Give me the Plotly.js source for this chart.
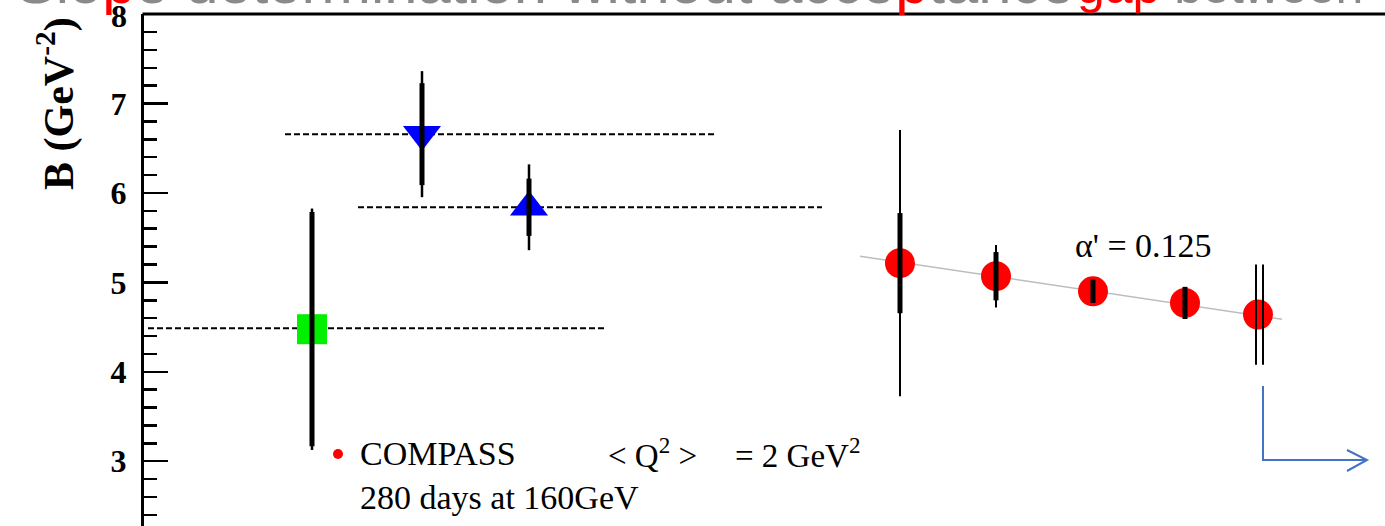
<!DOCTYPE html>
<html><head><meta charset="utf-8">
<script src="https://cdn.plot.ly/plotly-3.0.1.min.js"></script>
<style>html,body{margin:0;padding:0;background:#fff;overflow:hidden}#chart{width:1385px;height:526px}</style>
</head><body><div id="chart"></div>
<script>
// ---- data (x in arbitrary units, y = B in GeV^-2) ----
const greenX = [1.68], greenY = [4.476], greenErrStat = [1.31], greenErrTot = [1.35];
const downX = [2.78], downY = [6.658], downErrStat = [0.57], downErrTot = [0.705];
const upX = [3.85], upY = [5.84], upErrStat = [0.32], upErrTot = [0.48];
const compassX = [7.56, 8.52, 9.49, 10.41, 11.14];
const compassY = [5.215, 5.069, 4.90, 4.77, 4.64];
const compassErrStat = [0.56, 0.27, 0.13, 0.18, 0.0];
const compassErrTot = [1.49, 0.35, 0.0, 0.0, 0.0];
const edgeX = [11.12, 11.19], edgeY = [4.64, 4.64], edgeErr = [0.56, 0.56];
const refLevels = [4.488, 6.658, 5.84];
const refStart = [0.04, 1.41, 2.14];
const refEnd = [4.61, 5.71, 6.78];
const fitX = [7.16, 11.38], fitY = [5.293, 4.588];
const yTicks = [3, 4, 5, 6, 7, 8];
const yTopTick = 8;

// ---- helpers for page-pixel placement of decorations ----
const L = 144, T = 14, W = 1241, H = 512;
const px = x => (x - L) / W;
const py = y => 1 - (y - T) / H;

const traces = [];
refLevels.forEach((lv, i) => {
  traces.push({x: [refStart[i], refEnd[i]], y: [lv, lv], mode: 'lines',
    line: {color: '#000', width: 2, dash: '6px,3px'}, hoverinfo: 'skip'});
});
traces.push({x: fitX, y: fitY, mode: 'lines', line: {color: '#bdbdbd', width: 1.5}, hoverinfo: 'skip'});
traces.push({x: greenX, y: greenY, mode: 'markers', marker: {symbol: 'square', size: 30, color: '#00f000'}});
traces.push({x: downX, y: downY, mode: 'markers', marker: {symbol: 'triangle-down', size: 33, color: '#0000ff'}});
traces.push({x: upX, y: upY, mode: 'markers', marker: {symbol: 'triangle-up', size: 33, color: '#0000ff'}});
traces.push({x: compassX, y: compassY, mode: 'markers', marker: {symbol: 'circle', size: 30, color: '#ff0000'}});
function eb(x, y, err, thick) {
  return {x: x, y: y, mode: 'markers', marker: {size: 1, color: 'rgba(0,0,0,0)'}, hoverinfo: 'skip',
    error_y: {type: 'data', array: err, symmetric: true, color: '#000', thickness: thick, width: 0}};
}
traces.push(eb(greenX, greenY, greenErrTot, 2.5));
traces.push(eb(greenX, greenY, greenErrStat, 5));
traces.push(eb(downX, downY, downErrTot, 2.5));
traces.push(eb(downX, downY, downErrStat, 5));
traces.push(eb(upX, upY, upErrTot, 2.5));
traces.push(eb(upX, upY, upErrStat, 5));
traces.push(eb(compassX, compassY, compassErrTot, 2));
traces.push(eb(compassX, compassY, compassErrStat, 5));
traces.push(eb(edgeX, edgeY, edgeErr, 2));

const serif = 'Liberation Serif, Times New Roman, serif';
const R = s => '<span style="color:#ff0000">' + s + '</span>';
const sans = 'Liberation Sans, Arial, sans-serif';
const layout = {
  width: 1385, height: 526,
  margin: {l: L, r: 0, t: T, b: 0, pad: 0},
  paper_bgcolor: '#fff', plot_bgcolor: '#fff',
  showlegend: false,
  xaxis: {range: [0, 12.41], visible: false, fixedrange: true},
  yaxis: {range: [8.002 - H / 89.4, 8.002], showline: true, linewidth: 3, linecolor: '#000',
    ticks: 'inside', ticklen: 24, tickwidth: 2.5, tickcolor: '#000', ticklabelstandoff: 8,
    tickvals: yTicks, ticktext: yTicks.map(v => v === yTopTick ? '' : String(v)),
    tickfont: {family: serif, size: 32, color: '#000', weight: 'bold'},
    minor: {ticks: 'inside', ticklen: 13, tickwidth: 2.5, tickcolor: '#000', dtick: 0.2, showgrid: false},
    showgrid: false, zeroline: false, fixedrange: true},
  annotations: [
    {xref: 'paper', yref: 'paper', x: px(14), y: py(18.5), yanchor: 'bottom', xanchor: 'left', showarrow: false,
      text: 'Slo' + R('p') + 'e determination without acce' + R('p') + 'tance',
      font: {family: sans, size: 59.7, color: '#8a8a8a'}},
    {xref: 'paper', yref: 'paper', x: px(1075), y: py(16.5), yanchor: 'bottom', xanchor: 'left', showarrow: false,
      text: R('gap') + ' between', font: {family: sans, size: 50, color: '#8a8a8a'}},
    {xref: 'paper', yref: 'y', x: px(129), y: yTopTick, text: '<b>' + yTopTick + '</b>', showarrow: false,
      font: {family: serif, size: 32, color: '#000'}, xanchor: 'right', yanchor: 'middle', yshift: -2},
    {xref: 'paper', yref: 'paper', x: px(56), y: py(103), text: '<b>B (GeV<sup>-2</sup>)</b>', textangle: -90,
      showarrow: false, font: {family: serif, size: 42, color: '#000'}, xanchor: 'center', yanchor: 'middle'},
    {xref: 'paper', yref: 'paper', x: px(1073), y: py(245), text: "\u03b1' = 0.125", showarrow: false,
      font: {family: serif, size: 34, color: '#000'}, xanchor: 'left', yanchor: 'middle'},
    {xref: 'paper', yref: 'paper', x: px(358), y: py(453), text: 'COMPASS', showarrow: false,
      font: {family: serif, size: 34, color: '#000'}, xanchor: 'left', yanchor: 'middle'},
    {xref: 'paper', yref: 'paper', x: px(606), y: py(453), text: '&lt; Q<sup>2</sup> &gt;', showarrow: false,
      font: {family: serif, size: 33, color: '#000'}, xanchor: 'left', yanchor: 'middle'},
    {xref: 'paper', yref: 'paper', x: px(733), y: py(453), text: '= 2 GeV<sup>2</sup>', showarrow: false,
      font: {family: serif, size: 33, color: '#000'}, xanchor: 'left', yanchor: 'middle'},
    {xref: 'paper', yref: 'paper', x: px(358), y: py(497), text: '280 days at 160GeV', showarrow: false,
      font: {family: serif, size: 34, color: '#000'}, xanchor: 'left', yanchor: 'middle'}
  ],
  shapes: [
    {type: 'line', xref: 'paper', yref: 'paper', x0: px(142.5), x1: 1, y0: py(14), y1: py(14),
      line: {color: '#000', width: 3}, layer: 'above'},
    {type: 'circle', xref: 'paper', yref: 'paper', x0: px(333), x1: px(343), y0: py(459), y1: py(449),
      fillcolor: '#ff0000', line: {width: 0}},
    {type: 'path', xref: 'paper', yref: 'paper', line: {color: '#4472c4', width: 2},
      path: `M${px(1263)},${py(386)} L${px(1263)},${py(460)} L${px(1366)},${py(460)}`},
    {type: 'path', xref: 'paper', yref: 'paper', line: {color: '#4472c4', width: 2},
      path: `M${px(1347)},${py(450)} L${px(1367)},${py(460)} L${px(1347)},${py(471)}`}
  ]
};
Plotly.newPlot('chart', traces, layout, {displayModeBar: false, staticPlot: true});
</script></body></html>
